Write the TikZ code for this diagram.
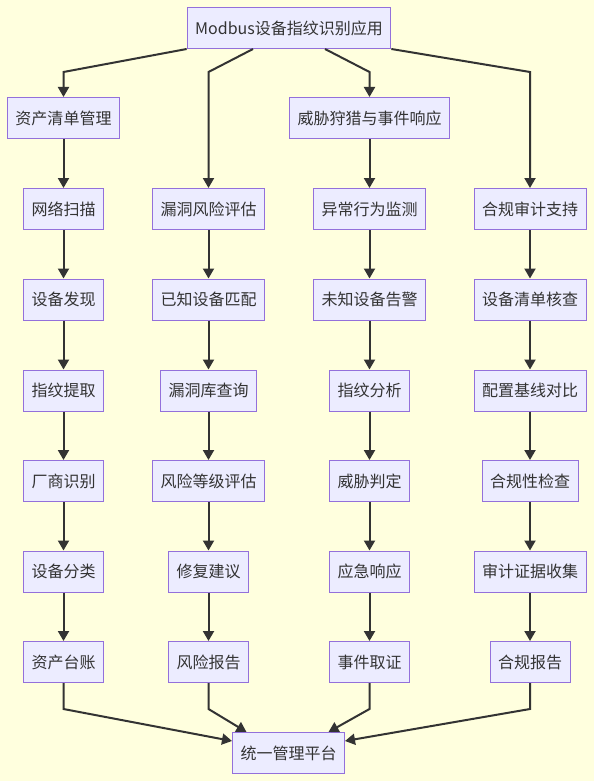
\documentclass[tikz,border=0pt]{standalone}
\usepackage{fontspec}
\setmainfont{Noto Sans CJK SC}
\usepackage{xcolor}
\usetikzlibrary{arrows.meta}
\definecolor{pagebg}{HTML}{FFFFDE}
\definecolor{boxfill}{HTML}{ECECFF}
\definecolor{boxline}{HTML}{9370DB}
\definecolor{inkgray}{HTML}{333333}
\tikzset{
  box/.style={draw=boxline, fill=boxfill, line width=1pt, minimum height=41pt,
    inner xsep=8pt, inner ysep=0pt, text=inkgray, font=\fontsize{16pt}{19pt}\selectfont},
  link/.style={draw=inkgray, line width=2pt, -{Triangle[length=10pt,width=11pt]}}
}

\begin{document}
\begin{tikzpicture}[x=1pt,y=-1pt]
        \useasboundingbox[fill=pagebg] (0,0) rectangle (594,781);
        \pgfmathsetmacro{\ca}{63.5}
        \pgfmathsetmacro{\cb}{208.5}
        \pgfmathsetmacro{\cc}{369.5}
        \pgfmathsetmacro{\cd}{530}
        \node [box] (top) at (289,28) {Modbus设备指纹识别应用};
        % asset inventory
        \node [box] (asset) at (\ca,118) {资产清单管理};
        \node [box] (scan) at (\ca,209) {网络扫描};
        \node [box] (discover) at (\ca,299.5) {设备发现};
        \node [box] (extract) at (\ca,390.5) {指纹提取};
        \node [box] (vendor) at (\ca,481) {厂商识别};
        \node [box] (classify) at (\ca,571.5) {设备分类};
        \node [box] (ledger) at (\ca,662) {资产台账};
        % vulnerability risk
        \node [box] (vuln) at (\cb,209) {漏洞风险评估};
        \node [box] (known) at (\cb,299.5) {已知设备匹配};
        \node [box] (vulndb) at (\cb,390.5) {漏洞库查询};
        \node [box] (risklevel) at (\cb,481) {风险等级评估};
        \node [box] (fix) at (\cb,571.5) {修复建议};
        \node [box] (riskrep) at (\cb,662) {风险报告};
        % threat hunting
        \node [box] (hunt) at (\cc,118) {威胁狩猎与事件响应};
        \node [box] (anomaly) at (\cc,209) {异常行为监测};
        \node [box] (unknown) at (\cc,299.5) {未知设备告警};
        \node [box] (fpanalysis) at (\cc,390.5) {指纹分析};
        \node [box] (verdict) at (\cc,481) {威胁判定};
        \node [box] (respond) at (\cc,571.5) {应急响应};
        \node [box] (forensic) at (\cc,662) {事件取证};
        % compliance audit
        \node [box] (audit) at (\cd,209) {合规审计支持};
        \node [box] (invcheck) at (\cd,299.5) {设备清单核查};
        \node [box] (baseline) at (\cd,390.5) {配置基线对比};
        \node [box] (compcheck) at (\cd,481) {合规性检查};
        \node [box] (evidence) at (\cd,571.5) {审计证据收集};
        \node [box] (comprep) at (\cd,662) {合规报告};
        \node [box] (platform) at (288.5,753) {统一管理平台};

        \draw [link] (top.south west) -- ([yshift=25pt]asset.north) -- (asset);
        \draw [link] ([xshift=-36pt]top.south) -- ([yshift=116pt]vuln.north) -- (vuln);
        \draw [link] ([xshift=36pt]top.south) -- ([yshift=25pt]hunt.north) -- (hunt);
        \draw [link] (top.south east) -- ([yshift=116pt]audit.north) -- (audit);

        \draw [link] (asset) -- (scan);
        \draw [link] (scan) -- (discover);
        \draw [link] (discover) -- (extract);
        \draw [link] (extract) -- (vendor);
        \draw [link] (vendor) -- (classify);
        \draw [link] (classify) -- (ledger);
        \draw [link] (vuln) -- (known);
        \draw [link] (known) -- (vulndb);
        \draw [link] (vulndb) -- (risklevel);
        \draw [link] (risklevel) -- (fix);
        \draw [link] (fix) -- (riskrep);
        \draw [link] (hunt) -- (anomaly);
        \draw [link] (anomaly) -- (unknown);
        \draw [link] (unknown) -- (fpanalysis);
        \draw [link] (fpanalysis) -- (verdict);
        \draw [link] (verdict) -- (respond);
        \draw [link] (respond) -- (forensic);
        \draw [link] (audit) -- (invcheck);
        \draw [link] (invcheck) -- (baseline);
        \draw [link] (baseline) -- (compcheck);
        \draw [link] (compcheck) -- (evidence);
        \draw [link] (evidence) -- (comprep);

        \draw [link] (ledger.south) -- ([yshift=-26pt]ledger.south) -- ([yshift=12pt]platform.west);
        \draw [link] (riskrep.south) -- ([yshift=-26pt]riskrep.south) -- ([xshift=-42pt]platform.north);
        \draw [link] (forensic.south) -- ([yshift=-26pt]forensic.south) -- ([xshift=40pt]platform.north);
        \draw [link] (comprep.south) -- ([yshift=-26pt]comprep.south) -- ([yshift=12pt]platform.east);
    \end{tikzpicture}
\end{document}
